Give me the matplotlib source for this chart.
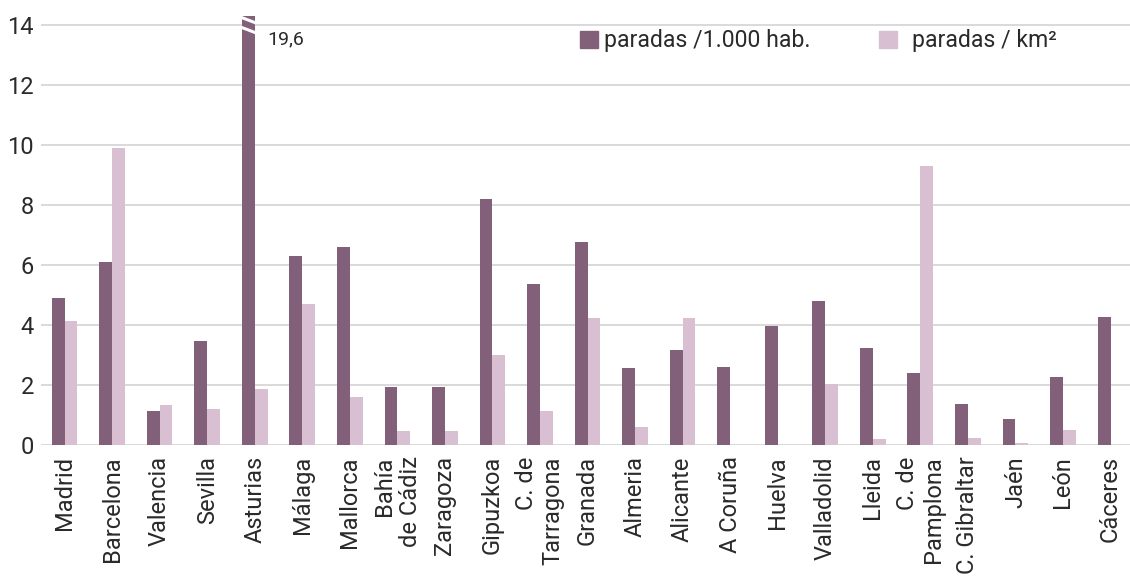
import matplotlib
matplotlib.use("Agg")
import matplotlib.pyplot as plt
import numpy as np
from matplotlib.patches import Rectangle

plt.rcParams['font.family'] = ['Roboto', 'DejaVu Sans']

categories = ["Madrid", "Barcelona", "Valencia", "Sevilla", "Asturias", "Málaga",
              "Mallorca", "Bahía\nde Cádiz", "Zaragoza", "Gipuzkoa", "C. de\nTarragona",
              "Granada", "Almeria", "Alicante", "A Coruña", "Huelva", "Valladolid",
              "Lleida", "C. de\nPamplona", "C. Gibraltar", "Jaén", "León", "Cáceres"]
por_hab = [4.92, 6.12, 1.12, 3.47, 19.6, 6.31, 6.60, 1.94, 1.92, 8.22, 5.36,
           6.76, 2.57, 3.16, 2.61, 3.97, 4.79, 3.23, 2.39, 1.37, 0.88, 2.26, 4.26]
por_km2 = [4.14, 9.90, 1.32, 1.21, 1.88, 4.69, 1.60, 0.48, 0.46, 3.01, 1.12,
           4.23, 0.61, 4.23, 0.0, 0.0, 2.03, 0.19, 9.31, 0.23, 0.07, 0.50, 0.0]
yticks = [0, 2, 4, 6, 8, 10, 12, 14]
legend_labels = ["paradas /1.000 hab.", "paradas / km²"]
break_label = "19,6"

dark = "#82607A"
pink = "#D9BFD2"
gridc = "#D9D9D9"
textc = "#2A2A2A"

fig = plt.figure(figsize=(11.30, 5.78), dpi=100)
ax = fig.add_axes([0.0361, 0.230, 0.9639, 0.742])

x = np.arange(len(categories))
w = 0.27
ax.bar(x - w / 2, por_hab, width=w, color=dark, zorder=3)
ax.bar(x + w / 2, por_km2, width=w, color=pink, zorder=3)

ax.set_xlim(-0.5, 22.41)
ax.set_ylim(0, 14.3)
ax.set_yticks(yticks)
ax.set_yticklabels([str(t) for t in yticks], fontsize=17, color=textc)
ax.yaxis.grid(True, color=gridc, linewidth=1.4, zorder=0)
ax.set_axisbelow(True)
ax.tick_params(axis='y', length=0, pad=5)
ax.tick_params(axis='x', length=0, pad=8)
for s in ax.spines.values():
    s.set_visible(False)

ax.set_xticks(x)
ax.set_xticklabels(categories, rotation=90, fontsize=17, color=textc,
                   ha='center', va='top', multialignment='right')

# break marks on the clipped bar
i_brk = int(np.argmax(por_hab))
x0, x1 = i_brk - w - 0.03, i_brk + 0.03
for yo in (14.27, 13.94):
    ax.plot([x0, x1], [yo, yo - 0.2], color='white', lw=2.2, zorder=5,
            clip_on=False, solid_capstyle='butt')
ax.text(i_brk + 0.26, 13.53, break_label, fontsize=14, color=textc,
        va='center', ha='left', zorder=6)

# legend (manual)
W, H = 1130, 578
def px(xp, yp):
    return xp / W, 1 - yp / H
for (lx, tx), col, lab in zip([(580, 604), (879, 912)], [dark, pink], legend_labels):
    fx, fy = px(lx, 48)
    fig.patches.append(Rectangle((fx, fy), 18 / W, 17 / H, transform=fig.transFigure,
                                 color=col, zorder=5))
    tfx, tfy = px(tx, 40)
    fig.text(tfx, tfy, lab, fontsize=16.6, color=textc, va='center', ha='left')

fig.savefig("out.png", dpi=100)
